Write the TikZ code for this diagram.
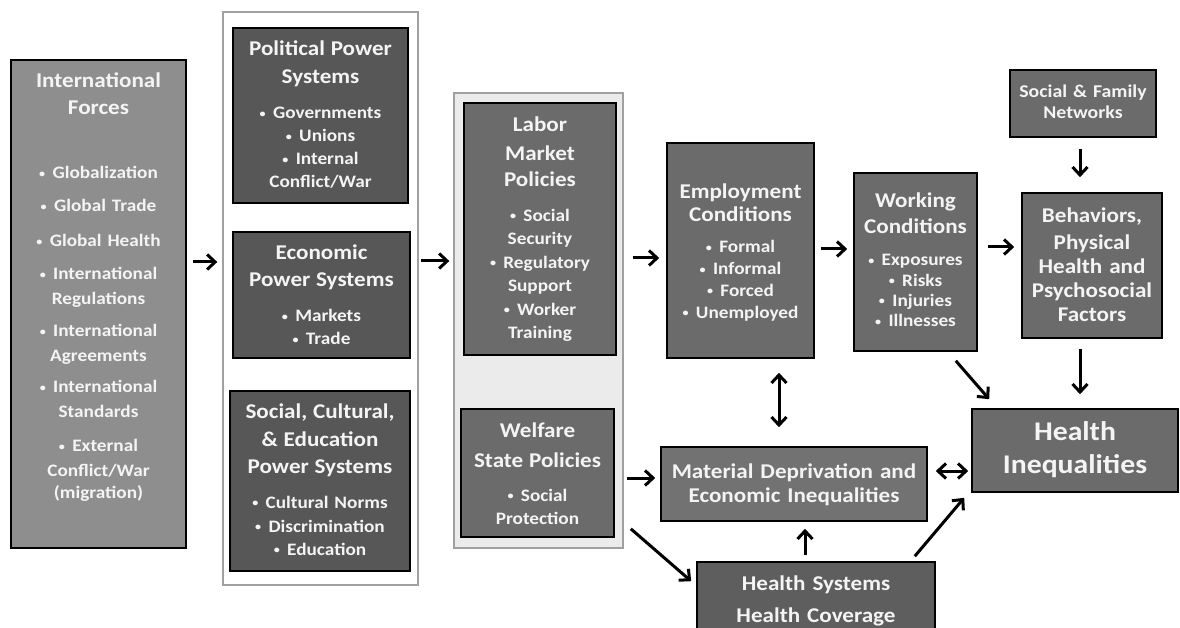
\documentclass[tikz,border=0pt]{standalone}
\usepackage{fontspec}
\setmainfont{Carlito}[FakeStretch=1.1]
\usetikzlibrary{arrows.meta,calc}
\definecolor{cIntl}{HTML}{8E8E8E}
\definecolor{cDark}{HTML}{575757}
\definecolor{cMid}{HTML}{6B6B6B}
\definecolor{cMat}{HTML}{727272}
\definecolor{cHS}{HTML}{5E5E5E}
\definecolor{cGroupLine}{HTML}{A0A0A0}
\definecolor{cGroupFill}{HTML}{EBEBEB}
\definecolor{cText}{HTML}{F4F4F4}
\newcommand\tf{\fontsize{21}{21}\selectfont}
\newcommand\bu{{\fontsize{11}{11}\selectfont\raisebox{1.6pt}{•}}\hspace{0.42em}}
\tikzset{
  box/.style={draw=black, line width=1.6pt, rectangle, inner sep=0pt},
  group/.style={draw=cGroupLine, line width=1.4pt, rectangle, inner sep=0pt},
  txt/.style={text=cText, anchor=base, align=center, inner sep=0pt},
  tip/.tip={Straight Barb[length=8pt,width=15pt,line width=3pt]},
  arr/.style={line width=3pt, -tip},
  darr/.style={line width=3pt, tip-tip}
}
\begin{document}
\begin{tikzpicture}[x=1pt,y=-1pt]
\useasboundingbox (0,0) rectangle (1180,628);
\clip (0,0) rectangle (1180,628);
\fill[white] (0,0) rectangle (1180,628);

% group frames
\node[group, fill=white, minimum width=195, minimum height=573] (g1) at (320.5,298.5) {};
\node[group, fill=cGroupFill, minimum width=169, minimum height=455] (g2) at (538.5,320.5) {};

% boxes
\node[box, fill=cIntl, minimum width=175, minimum height=488] (intl) at (98.5,304) {};
\node[box, fill=cDark, minimum width=175, minimum height=175] (pol) at (320.5,115.5) {};
\node[box, fill=cDark, minimum width=177, minimum height=126] (eco) at (321.5,295) {};
\node[box, fill=cDark, minimum width=180, minimum height=180] (soc) at (320,481) {};
\node[box, fill=cMid, minimum width=152, minimum height=252] (lab) at (540,229) {};
\node[box, fill=cMid, minimum width=153, minimum height=128] (wel) at (537.5,473) {};
\node[box, fill=cMid, minimum width=147, minimum height=215] (emp) at (740.5,250.5) {};
\node[box, fill=cMid, minimum width=123, minimum height=178] (work) at (915.5,262) {};
\node[box, fill=cMid, minimum width=146, minimum height=67] (sf) at (1083,103.5) {};
\node[box, fill=cMid, minimum width=140, minimum height=145] (beh) at (1092,265.5) {};
\node[box, fill=cMat, minimum width=266, minimum height=74] (mat) at (794,484) {};
\node[box, fill=cMid, minimum width=206, minimum height=83] (hi) at (1075,450.5) {};
\node[box, fill=cHS, minimum width=238, minimum height=88] (hs) at (816,606) {};

% texts
\node[txt, text width=170pt, font=\bfseries\fontsize{17.5}{25}\selectfont] (intlT) at (98.5,88)
 {{\tf International}\\[2pt]{\tf Forces}\\[39pt]\bu Globalization\\[8pt]\bu Global Trade\\[10pt]\bu Global Health\\[8pt]\bu International\\Regulations\\[7pt]\bu International\\Agreements\\[6pt]\bu International\\Standards\\[9pt]\bu External\\Conflict/War\\[-3pt](migration)};
\node[txt, text width=170pt, font=\bfseries\fontsize{17.5}{23}\selectfont] (polT) at (320.5,56)
 {{\tf Political Power}\\[5pt]{\tf Systems}\\[12pt]\bu Governments\\\bu Unions\\\bu Internal\\Conflict/War};
\node[txt, text width=170pt, font=\bfseries\fontsize{17.5}{23}\selectfont] (ecoT) at (321.5,260)
 {{\tf Economic}\\[4pt]{\tf Power Systems}\\[12pt]\bu Markets\\\bu Trade};
\node[txt, text width=175pt, font=\bfseries\fontsize{17.5}{23}\selectfont] (socT) at (320,418)
 {{\tf Social, Cultural,}\\[5pt]{\tf \& Education}\\[4pt]{\tf Power Systems}\\[12pt]\bu Cultural Norms\\[1pt]\bu Discrimination\\\bu Education};
\node[txt, text width=150pt, font=\bfseries\fontsize{17.5}{23.5}\selectfont] (labT) at (540,132)
 {{\tf Labor}\\[5pt]{\tf Market}\\[3pt]{\tf Policies}\\[11pt]\bu Social\\Security\\\bu Regulatory\\Support\\\bu Worker\\Training};
\node[txt, text width=150pt, font=\bfseries\fontsize{17.5}{23}\selectfont] (welT) at (537.5,437)
 {{\tf Welfare}\\[7pt]{\tf State Policies}\\[11pt]\bu Social\\Protection};
\node[txt, text width=145pt, font=\bfseries\fontsize{17.5}{21.7}\selectfont] (empT) at (740.5,199)
 {{\tf Employment}\\[1.3pt]{\tf Conditions}\\[9.3pt]\bu Formal\\\bu Informal\\\bu Forced\\\bu Unemployed};
\node[txt, text width=121pt, font=\bfseries\fontsize{17.5}{20.3}\selectfont] (workT) at (915.5,208)
 {{\tf Working}\\[5.7pt]{\tf Conditions}\\[11.7pt]\bu Exposures\\\bu Risks\\\bu Injuries\\\bu Illnesses};
\node[txt, text width=144pt, font=\bfseries\fontsize{18}{21}\selectfont] (sfT) at (1083,98)
 {Social \& Family\\Networks};
\node[txt, text width=138pt, font=\bfseries\fontsize{21}{24}\selectfont] (behT) at (1092,223)
 {Behaviors,\\[3pt]Physical\\Health and\\Psychosocial\\Factors};
\node[txt, text width=264pt, font=\bfseries\fontsize{21}{24}\selectfont] (matT) at (794,478)
 {Material Deprivation and\\Economic Inequalities};
\node[txt, text width=204pt, font=\bfseries\fontsize{27}{33}\selectfont] (hiT) at (1075,440)
 {Health\\Inequalities};
\node[txt, text width=236pt, font=\bfseries\fontsize{21}{32}\selectfont] (hsT) at (816,590)
 {Health Systems\\Health Coverage};

% connectors
\draw[arr] ($(intl.east|-0,262)+(6,0)$) -- ($(g1.west|-0,262)+(-5,0)$);
\draw[arr] ($(g1.east|-0,261)+(2,0)$) -- ($(g2.west|-0,261)+(-4,0)$);
\draw[arr] ($(g2.east|-0,258)+(9,0)$) -- ($(emp.west|-0,258)+(-7,0)$);
\draw[arr] ($(emp.east|-0,249)+(6,0)$) -- ($(work.west|-0,249)+(-6,0)$);
\draw[arr] ($(work.east|-0,247)+(10,0)$) -- ($(beh.west|-0,247)+(-7,0)$);
\draw[arr] ($(sf.south-|1080,0)+(0,11)$) -- ($(beh.north-|1080,0)+(0,-15)$);
\draw[arr] ($(beh.south-|1080,0)+(0,10)$) -- ($(hi.north-|1080,0)+(0,-14)$);
\draw[arr] ($(work.south east)+(-22,9)$) -- ($(hi.north west)+(18,-9)$);
\draw[darr] ($(emp.south-|779,0)+(0,14)$) -- ($(mat.north-|779,0)+(0,-19)$);
\draw[darr] ($(mat.east|-0,471)+(8,0)$) -- ($(hi.west|-0,471)+(-3,0)$);
\draw[arr] ($(wel.east|-0,478)+(12,0)$) -- ($(mat.west|-0,478)+(-5,0)$);
\draw[arr] ($(wel.south east)+(16,-9)$) -- ($(hs.north west)+(-5,20)$);
\draw[arr] ($(hs.north-|805,0)+(0,-6)$) -- ($(mat.south-|805,0)+(0,7)$);
\draw[arr] ($(hs.north east)+(-21,-5)$) -- ($(hi.south west)+(-7,5)$);
\end{tikzpicture}
\end{document}
